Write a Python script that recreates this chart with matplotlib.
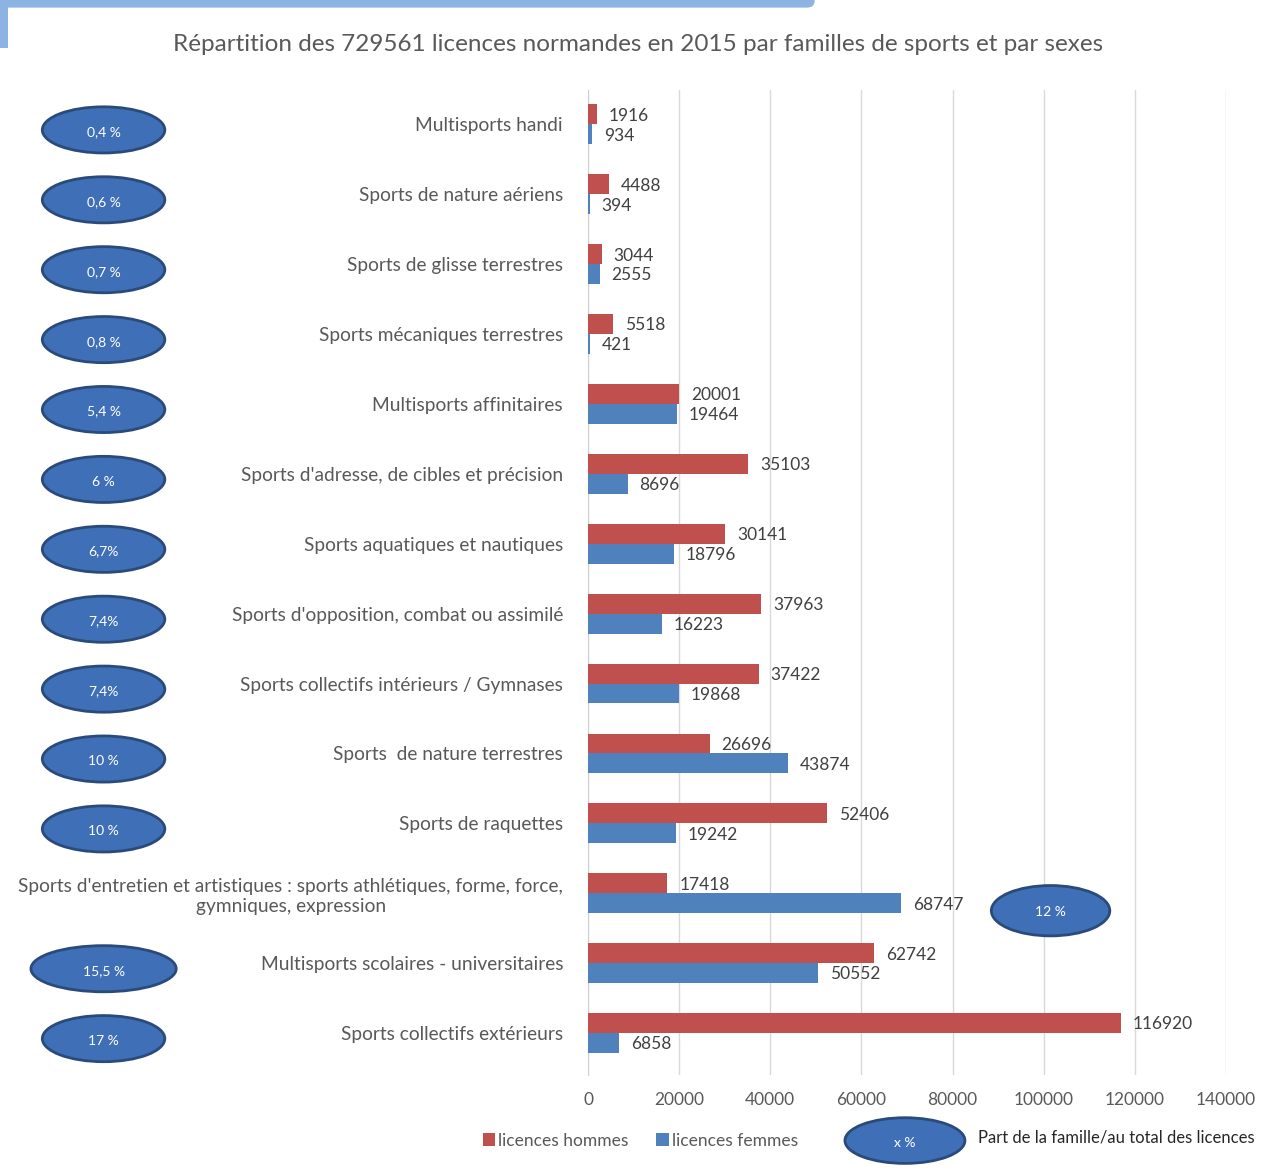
import matplotlib.pyplot as plt
from matplotlib.patches import Ellipse, Rectangle, FancyBboxPatch
from matplotlib.transforms import blended_transform_factory

# données (de haut en bas)
familles = [
    "Multisports handi",
    "Sports de nature aériens",
    "Sports de glisse terrestres",
    "Sports mécaniques terrestres",
    "Multisports affinitaires",
    "Sports d'adresse, de cibles et précision",
    "Sports aquatiques et nautiques",
    "Sports d'opposition, combat ou assimilé",
    "Sports collectifs intérieurs / Gymnases",
    "Sports  de nature terrestres",
    "Sports de raquettes",
    "Sports d'entretien et artistiques : sports athlétiques, forme, force,\ngymniques, expression",
    "Multisports scolaires - universitaires",
    "Sports collectifs extérieurs",
]
hommes = [1916, 4488, 3044, 5518, 20001, 35103, 30141, 37963, 37422, 26696, 52406, 17418, 62742, 116920]
femmes = [934, 394, 2555, 421, 19464, 8696, 18796, 16223, 19868, 43874, 19242, 68747, 50552, 6858]
parts = ["0,4 %", "0,6 %", "0,7 %", "0,8 %", "5,4 %", "6 %", "6,7%", "7,4%", "7,4%",
         "10 %", "10 %", "12 %", "15,5 %", "17 %"]
x_ticks = [0, 20000, 40000, 60000, 80000, 100000, 120000, 140000]

ROUGE = "#c0504d"
BLEU = "#4f81bd"
ELL_FACE = "#3f6fb6"
ELL_EDGE = "#2a4a7a"
GRIS = "#595959"

plt.rcParams["font.family"] = ["Lato", "DejaVu Sans"]

fig = plt.figure(figsize=(12.63, 11.71), dpi=100)
ax = fig.add_axes([0.4656, 0.082, 0.9707 - 0.4656, 0.9231 - 0.082])

h = 0.285
pos = list(range(len(familles)))
ax.barh([p - h / 2 for p in pos], hommes, height=h, color=ROUGE, label="licences hommes", zorder=3)
ax.barh([p + h / 2 for p in pos], femmes, height=h, color=BLEU, label="licences femmes", zorder=3)

for p, vh, vf in zip(pos, hommes, femmes):
    ax.text(vh + 2600, p - h / 2 + 0.02, str(vh), va="center", ha="left", fontsize=12.5, color="#404040")
    ax.text(vf + 2600, p + h / 2 + 0.02, str(vf), va="center", ha="left", fontsize=12.5, color="#404040")

ax.set_xlim(0, 140000)
ax.set_ylim(13.6, -0.49)
ax.set_xticks(x_ticks)
ax.set_xticklabels([str(t) for t in x_ticks], fontsize=12.5, color=GRIS)
ax.set_yticks(pos)
ax.set_yticklabels(familles, fontsize=13.8, color=GRIS)
for lab in ax.get_yticklabels():
    lab.set_multialignment("center")
ax.tick_params(axis="both", length=0)
ax.tick_params(axis="y", pad=18)
ax.tick_params(axis="x", pad=12)
ax.grid(axis="x", color="#d9d9d9", linewidth=1, zorder=0)
for s in ["top", "right", "bottom"]:
    ax.spines[s].set_visible(False)
ax.spines["left"].set_color("#d0d0d0")

fig.text(0.505, 0.962, "Répartition des 729561 licences normandes en 2015 par familles de sports et par sexes",
         ha="center", va="center", fontsize=17.5, color=GRIS)

# ellipses : part de chaque famille
tr = blended_transform_factory(fig.transFigure, ax.transData)
for p, txt in zip(pos, parts):
    if p == 11:
        e = Ellipse((101500, p + 0.25), 26000, 0.72, transform=ax.transData,
                    facecolor=ELL_FACE, edgecolor=ELL_EDGE, linewidth=2, clip_on=False, zorder=4)
        ax.add_patch(e)
        ax.text(101500, p + 0.27, txt, ha="center", va="center", fontsize=10, color="white", zorder=5)
        continue
    w = 0.115 if p == 12 else 0.097
    e = Ellipse((0.082, p + 0.08), w, 0.66, transform=tr, facecolor=ELL_FACE,
                edgecolor=ELL_EDGE, linewidth=2, clip_on=False)
    fig.add_artist(e)
    fig.text(0.082, p + 0.11, txt, transform=tr, ha="center", va="center", fontsize=10, color="white")

# légende
fig.legend(loc="center", bbox_to_anchor=(0.507, 0.026), ncol=2, frameon=False,
           fontsize=12.5, handlelength=0.7, handleheight=0.7, handletextpad=0.2,
           columnspacing=1.6, labelcolor=GRIS)
fig.add_artist(Ellipse((0.7165, 0.026), 0.095, 0.039, transform=fig.transFigure,
                       facecolor=ELL_FACE, edgecolor=ELL_EDGE, linewidth=2))
fig.text(0.7165, 0.024, "x %", ha="center", va="center", fontsize=10, color="white")
fig.text(0.774, 0.029, "Part de la famille/au total des licences", ha="left", va="center",
         fontsize=12, color="#262626")

# cadre bleu clair en haut à gauche
fig.add_artist(FancyBboxPatch((0, 0.9935), 0.645, 0.02, boxstyle="round,pad=0,rounding_size=0.006",
                              transform=fig.transFigure, facecolor="#8db3e2", edgecolor="none"))
fig.add_artist(Rectangle((0, 0.959), 0.0065, 0.041, transform=fig.transFigure,
                         facecolor="#8db3e2", edgecolor="none"))

fig.savefig("out.png", dpi=100, facecolor="white")
